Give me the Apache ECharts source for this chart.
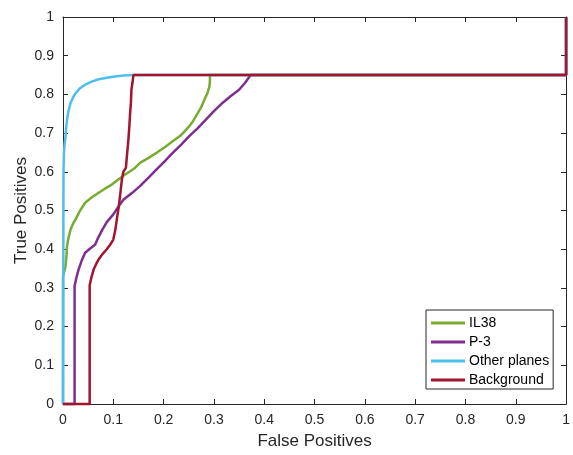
<!DOCTYPE html>
<html>
<head>
<meta charset="utf-8">
<script src="https://cdn.jsdelivr.net/npm/echarts@6/dist/echarts.min.js"></script>
<style>html,body{margin:0;padding:0;background:#fff}#c{width:573px;height:455px}</style>
</head>
<body>
<div id="c"></div>
<script>
var seriesNames = ['IL38', 'P-3', 'Other planes', 'Background'];
var il38 = [[0,0],[0,0.33],[0.003,0.345],[0.005,0.356],[0.007,0.385],[0.008,0.408],[0.011,0.43],[0.015,0.451],[0.02,0.466],[0.025,0.477],[0.034,0.5],[0.044,0.52],[0.057,0.534],[0.071,0.546],[0.084,0.557],[0.097,0.567],[0.108,0.578],[0.12,0.59],[0.132,0.6],[0.143,0.61],[0.153,0.623],[0.17,0.636],[0.186,0.649],[0.203,0.664],[0.218,0.679],[0.233,0.693],[0.245,0.709],[0.256,0.726],[0.264,0.743],[0.274,0.765],[0.281,0.786],[0.287,0.803],[0.291,0.82],[0.292,0.835],[0.292,0.85],[1,0.85],[1,1]];
var p3 = [[0,0],[0.023,0],[0.023,0.305],[0.027,0.328],[0.031,0.348],[0.037,0.37],[0.044,0.391],[0.054,0.402],[0.064,0.412],[0.07,0.43],[0.078,0.45],[0.087,0.47],[0.1,0.49],[0.11,0.51],[0.12,0.528],[0.137,0.545],[0.153,0.563],[0.17,0.585],[0.186,0.606],[0.202,0.627],[0.218,0.649],[0.235,0.67],[0.251,0.692],[0.268,0.713],[0.284,0.735],[0.3,0.757],[0.317,0.778],[0.333,0.795],[0.35,0.812],[0.362,0.83],[0.373,0.85],[1,0.85],[1,1]];
var otherPlanes = [[0,0],[0.001,0.6],[0.002,0.65],[0.003,0.67],[0.005,0.69],[0.006,0.71],[0.008,0.735],[0.011,0.757],[0.015,0.778],[0.02,0.792],[0.025,0.803],[0.033,0.815],[0.044,0.825],[0.057,0.833],[0.071,0.839],[0.087,0.843],[0.103,0.846],[0.12,0.849],[0.14,0.85],[1,0.85],[1,1]];
var background = [[0,0],[0.053,0],[0.053,0.307],[0.057,0.33],[0.061,0.348],[0.066,0.362],[0.071,0.374],[0.079,0.388],[0.087,0.4],[0.094,0.412],[0.1,0.425],[0.104,0.45],[0.107,0.477],[0.109,0.495],[0.111,0.511],[0.114,0.545],[0.117,0.58],[0.12,0.6],[0.125,0.61],[0.127,0.64],[0.13,0.683],[0.132,0.72],[0.133,0.743],[0.135,0.78],[0.136,0.812],[0.138,0.83],[0.14,0.85],[1,0.85],[1,1]];
var colors = ['#77AC30', '#7E2F8E', '#4DBEEE', '#A2142F'];
var dataSets = [il38, p3, otherPlanes, background];

var axisColor = '#262626';
var font = 'Liberation Sans, Arial, sans-serif';
function mkAxis(pos, showLabels, name, nameGap) {
  return {
    type: 'value', position: pos, min: 0, max: 1, interval: 0.1,
    name: name, nameLocation: 'middle', nameGap: nameGap, nameMoveOverlap: false,
    nameTextStyle: {color: axisColor, fontSize: 17, fontFamily: font},
    axisLine: {show: true, onZero: false, lineStyle: {color: axisColor, width: 1}},
    axisTick: {show: true, inside: true, length: 5, lineStyle: {color: axisColor}},
    axisLabel: {show: showLabels, color: axisColor, fontSize: 14, fontFamily: font, margin: 9},
    splitLine: {show: false}
  };
}
var chart = echarts.init(document.getElementById('c'), null, {renderer: 'canvas'});
chart.setOption({
  animation: false,
  backgroundColor: '#fff',
  grid: {left: 63, right: 4, top: 17, bottom: 50},
  xAxis: [mkAxis('bottom', true, 'False Positives', 29), mkAxis('top', false, '', 0)],
  yAxis: [mkAxis('left', true, 'True Positives', 33), mkAxis('right', false, '', 0)],
  legend: {
    orient: 'vertical', left: 426, top: 310,
    backgroundColor: '#fff', borderColor: axisColor, borderWidth: 1, borderRadius: 0,
    padding: [6, 4, 2, 5], itemGap: 5, itemWidth: 34, itemHeight: 3,
    icon: 'rect',
    textStyle: {color: '#000', fontSize: 14, fontFamily: font, padding: [0, 0, 0, -1]},
    data: seriesNames
  },
  series: dataSets.map(function (d, i) {
    return {
      name: seriesNames[i], type: 'line', data: d, showSymbol: false, symbol: 'none',
      clip: false, lineStyle: {color: colors[i], width: 2.5}, itemStyle: {color: colors[i]}
    };
  })
});
</script>
</body>
</html>
